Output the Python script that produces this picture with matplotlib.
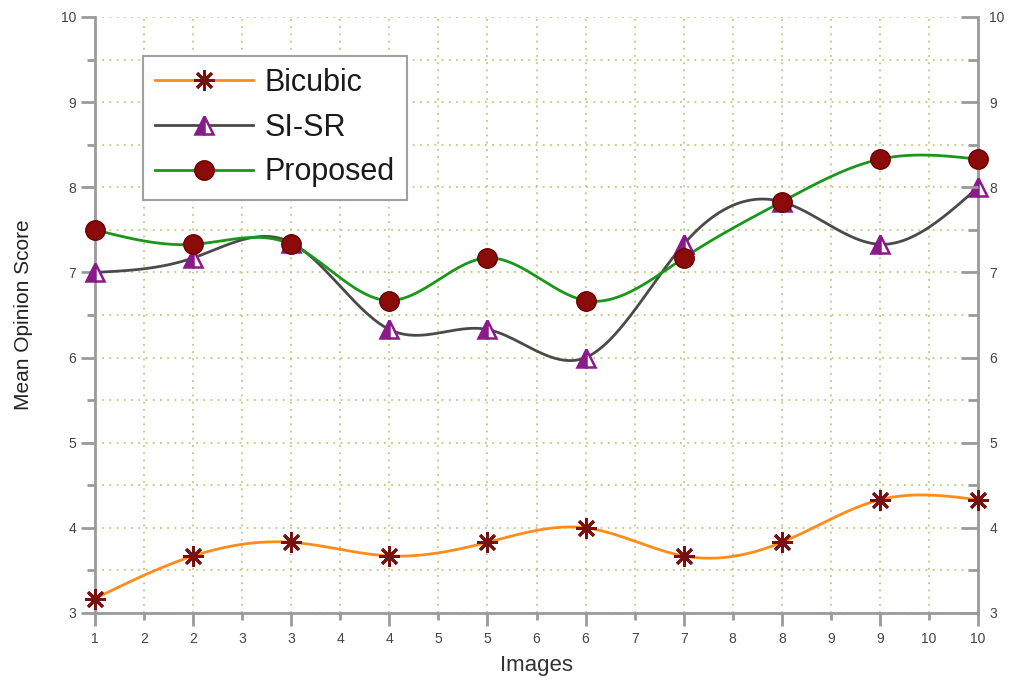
import numpy as np
import matplotlib
matplotlib.use("Agg")
import matplotlib.pyplot as plt

images = [1, 2, 3, 4, 5, 6, 7, 8, 9, 10]
bicubic = [3.17, 3.67, 3.83, 3.67, 3.83, 4.00, 3.67, 3.83, 4.33, 4.33]
si_sr = [7.00, 7.17, 7.35, 6.33, 6.33, 6.00, 7.33, 7.83, 7.33, 8.00]
proposed = [7.50, 7.33, 7.33, 6.67, 7.17, 6.67, 7.17, 7.83, 8.33, 8.33]
x_ticks = [1, 1.5, 2, 2.5, 3, 3.5, 4, 4.5, 5, 5.5, 6, 6.5, 7, 7.5, 8, 8.5, 9, 9.5, 10]
x_tick_labels = ["1", "2", "2", "3", "3", "4", "4", "5", "5", "6", "6",
                 "7", "7", "8", "8", "9", "9", "10", "10"]
y_major = [3, 4, 5, 6, 7, 8, 9, 10]
y_minor = [3.5, 4.5, 5.5, 6.5, 7.5, 8.5, 9.5]

plt.rcParams['font.family'] = ['Liberation Sans', 'DejaVu Sans']


def natural_spline(x, y, n=400):
    x = np.asarray(x, float)
    y = np.asarray(y, float)
    k = len(x)
    h = np.diff(x)
    A = np.zeros((k, k))
    b = np.zeros(k)
    A[0, 0] = 1
    A[-1, -1] = 1
    for i in range(1, k - 1):
        A[i, i - 1] = h[i - 1]
        A[i, i] = 2 * (h[i - 1] + h[i])
        A[i, i + 1] = h[i]
        b[i] = 3 * ((y[i + 1] - y[i]) / h[i] - (y[i] - y[i - 1]) / h[i - 1])
    c = np.linalg.solve(A, b)
    xs = np.linspace(x[0], x[-1], n)
    ys = np.empty_like(xs)
    for j, xv in enumerate(xs):
        i = min(np.searchsorted(x, xv, side='right') - 1, k - 2)
        dx = xv - x[i]
        bb = (y[i + 1] - y[i]) / h[i] - h[i] * (2 * c[i] + c[i + 1]) / 3
        d = (c[i + 1] - c[i]) / (3 * h[i])
        ys[j] = y[i] + bb * dx + c[i] * dx ** 2 + d * dx ** 3
    return xs, ys


fig = plt.figure(figsize=(10.24, 6.91), dpi=100)
ax = fig.add_axes([0.0928, 0.1129, 0.8623, 0.8625])

spine_col = '#9a9a9a'
grid_col = '#c2c87a'

series = [
    ("Bicubic", bicubic, '#ff8c1a', dict(marker=(8, 2, 0), ms=15, mec='#7a1010', mfc='#7a1010', mew=2.0)),
    ("SI-SR", si_sr, '#4a4a4a', dict(marker='^', ms=13, mec='#8a1a8a', mfc='#8a1a8a',
                                      fillstyle='left', markerfacecoloralt='white', mew=1.8)),
    ("Proposed", proposed, '#1a961a', dict(marker='o', ms=14, mec='#6a0000', mfc='#8b0a0a', mew=1.0)),
]

handles = []
for name, vals, col, mk in series:
    xs, ys = natural_spline(images, vals)
    ax.plot(xs, ys, color=col, lw=2.0, zorder=3, clip_on=False)
    ax.plot(images, vals, ls='none', zorder=4, clip_on=False, **mk)
    h, = ax.plot([], [], color=col, lw=2.0, **mk)
    handles.append(h)

ax.set_xlim(1, 10)
ax.set_ylim(3, 10)

major_x = [t for t in x_ticks if float(t).is_integer()]
minor_x = [t for t in x_ticks if not float(t).is_integer()]
ax.set_xticks(major_x, [l for t, l in zip(x_ticks, x_tick_labels) if float(t).is_integer()])
ax.set_xticks(minor_x, [l for t, l in zip(x_ticks, x_tick_labels) if not float(t).is_integer()], minor=True)
ax.set_yticks(y_major, [str(v) for v in y_major])
ax.set_yticks(y_minor, minor=True)

ax.grid(True, which='both', color=grid_col, ls=(0, (1, 3)), lw=1.3, zorder=0)

for s in ['left', 'right', 'bottom']:
    ax.spines[s].set_color(spine_col)
    ax.spines[s].set_linewidth(2.0)
ax.spines['top'].set_visible(False)

ax.tick_params(axis='x', which='major', direction='out', length=9, width=2, color=spine_col,
               labelsize=10, labelcolor='#444444', pad=5)
ax.tick_params(axis='x', which='minor', direction='out', length=5, width=2, color=spine_col,
               labelsize=10, labelcolor='#444444', pad=9)
ax.tick_params(axis='y', which='major', direction='out', length=10, width=2, color=spine_col,
               labelsize=10, labelcolor='#444444', left=True, right=False)
ax.tick_params(axis='y', which='minor', direction='out', length=6, width=2, color=spine_col,
               left=True, right=False)

ax2 = ax.twinx()
ax2.set_ylim(3, 10)
ax2.set_yticks(y_major, [str(v) for v in y_major])
ax2.set_yticks(y_minor, minor=True)
for s in ax2.spines.values():
    s.set_visible(False)
ax2.tick_params(axis='y', which='major', direction='in', length=12, width=2, color=spine_col,
                labelsize=10, labelcolor='#444444', pad=8)
ax2.tick_params(axis='y', which='minor', direction='in', length=7, width=2, color=spine_col)

ax.set_xlabel("Images", fontsize=16, color='#333333', labelpad=6)
ax.set_ylabel("Mean Opinion Score", fontsize=15, color='#222222', labelpad=20)

leg = ax.legend(handles, [s[0] for s in series], loc='upper left',
                bbox_to_anchor=(0.054, 0.935), fontsize=22, handlelength=3.2,
                handletextpad=0.4, labelspacing=0.48, borderpad=0.4, fancybox=False,
                framealpha=1, edgecolor='#a0a0a0', borderaxespad=0)
leg.get_frame().set_linewidth(1.5)
leg.set_zorder(5)
for t in leg.get_texts():
    t.set_color('#1a1a1a')

fig.savefig("out.png", dpi=100)
